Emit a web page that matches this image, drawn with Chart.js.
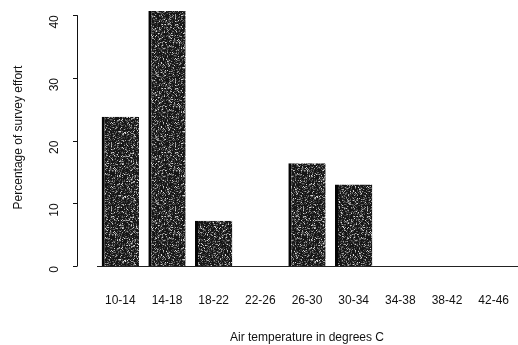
<!DOCTYPE html>
<html>
<head>
<meta charset="utf-8">
<script src="https://cdn.jsdelivr.net/npm/chart.js@4"></script>
<style>
  html, body { margin: 0; padding: 0; background: #fff; }
  #wrap { width: 518px; height: 345px; position: relative; }
</style>
</head>
<body>
<div id="wrap"><canvas id="c" width="518" height="345"></canvas></div>
<script>
// Air temperature bins (degrees C) and share of survey effort (%)
const categories = ['10-14', '14-18', '18-22', '22-26', '26-30', '30-34', '34-38', '38-42', '42-46'];
const effort = [23.8, 40.7, 7.2, 0, 16.4, 13.0, 0, 0, 0];
const yTicks = [0, 10, 20, 30, 40];

// Grainy dark fill for the bars: a fixed integer hash decides each texel's shade
function grain() {
  const size = 64;
  const c = document.createElement('canvas');
  c.width = size; c.height = size;
  const g = c.getContext('2d');
  const img = g.createImageData(size, size);
  for (let py = 0; py < size; py++) {
    for (let px = 0; px < size; px++) {
      let h = Math.imul(px, 374761393) + Math.imul(py, 668265263);
      h = Math.imul(h ^ (h >>> 13), 1274126177);
      h = (h ^ (h >>> 16)) >>> 0;
      const t = (h & 255) / 255;
      let v;
      if (t < 0.55) v = 22;
      else if (t < 0.75) v = 55;
      else if (t < 0.88) v = 100;
      else if (t < 0.96) v = 160;
      else v = 215;
      const i = (py * size + px) * 4;
      img.data[i] = img.data[i + 1] = img.data[i + 2] = v;
      img.data[i + 3] = 255;
    }
  }
  g.putImageData(img, 0, 0);
  return g.createPattern(c, 'repeat');
}

// Detached left axis (line + tick marks), drawn from the y scale
const leftAxis = {
  id: 'leftAxis',
  afterDraw(chart) {
    const y = chart.scales.y;
    const ctx = chart.ctx;
    const x0 = chart.chartArea.left - 20;
    ctx.save();
    ctx.strokeStyle = '#111';
    ctx.lineWidth = 1;
    ctx.beginPath();
    ctx.moveTo(x0 + 0.5, y.getPixelForValue(yTicks[0]));
    ctx.lineTo(x0 + 0.5, y.getPixelForValue(yTicks[yTicks.length - 1]));
    yTicks.forEach(v => {
      const py = Math.round(y.getPixelForValue(v)) + 0.5;
      ctx.moveTo(x0 + 0.5, py);
      ctx.lineTo(x0 - 4, py);
    });
    ctx.stroke();
    ctx.restore();
  }
};

const font = { family: 'Liberation Sans, Arial, sans-serif', size: 12 };

new Chart(document.getElementById('c'), {
  type: 'bar',
  data: {
    labels: categories,
    datasets: [{
      data: effort,
      backgroundColor: grain(),
      borderColor: '#050505',
      borderWidth: { left: 3, top: 0, right: 0, bottom: 0 },
      borderSkipped: false,
      barPercentage: 0.8,
      categoryPercentage: 1.0
    }]
  },
  options: {
    responsive: false,
    animation: false,
    layout: { padding: { top: 9, right: 1, left: 0, bottom: 0 } },
    plugins: { legend: { display: false }, tooltip: { enabled: false } },
    scales: {
      x: {
        grid: { display: false, drawTicks: false },
        border: { display: true, color: '#222', width: 1 },
        ticks: { color: '#111', padding: 27, maxRotation: 0, font },
        title: {
          display: true, text: 'Air temperature in degrees C', color: '#111', font,
          padding: { top: 20, bottom: 0 }
        },
        afterFit(s) { s.height = 79; s.paddingLeft = 0; s.paddingRight = 0; }
      },
      y: {
        min: 0, max: 41,
        grid: { display: false, drawTicks: false },
        border: { display: false },
        ticks: {
          stepSize: 10, includeBounds: false, padding: 42,
          minRotation: 90, maxRotation: 90, color: '#111', font
        },
        title: {
          display: true, text: 'Percentage of survey effort', color: '#111', font,
          padding: { top: 11, bottom: 0 }
        },
        afterFit(s) { s.width = 97; s.paddingTop = 0; s.paddingBottom = 0; }
      }
    }
  },
  plugins: [leftAxis]
});
</script>
</body>
</html>
